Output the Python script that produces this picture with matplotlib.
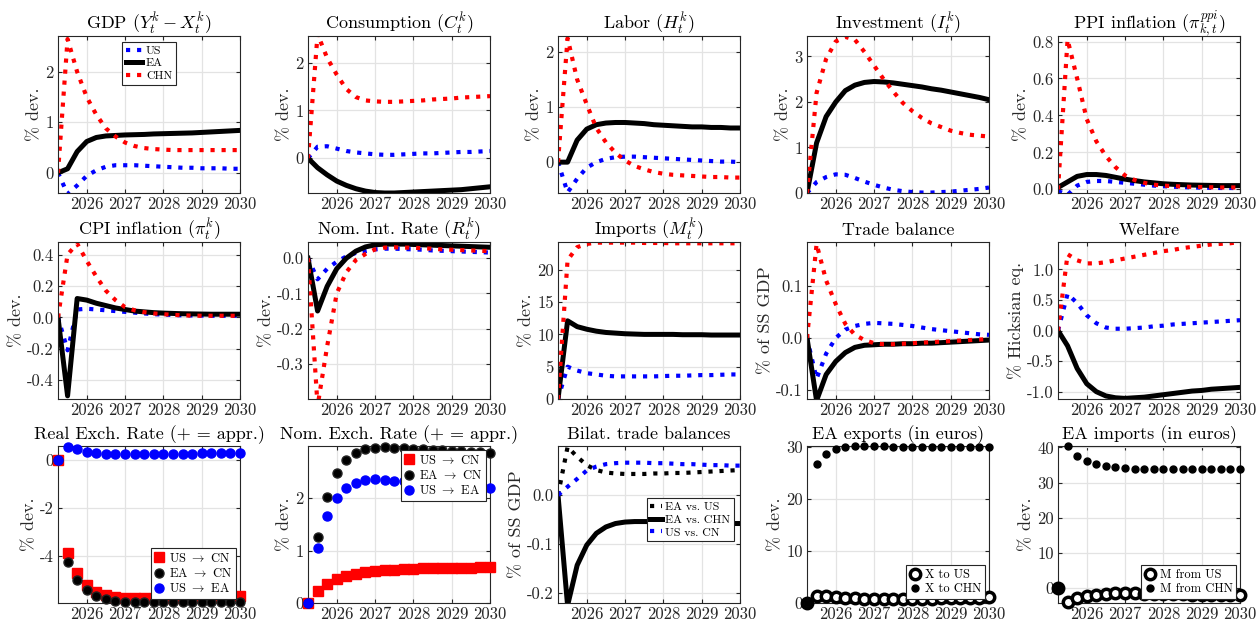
import matplotlib
matplotlib.use("Agg")
import matplotlib.pyplot as plt

plt.rcParams["font.family"] = "serif"
plt.rcParams["font.serif"] = ["cmr10"]
plt.rcParams["mathtext.fontset"] = "cm"
plt.rcParams["axes.unicode_minus"] = False
plt.rcParams["axes.formatter.use_mathtext"] = False

# quarterly periods
t = [2025.25, 2025.5, 2025.75, 2026.0, 2026.25, 2026.5, 2026.75, 2027.0, 2027.25, 2027.5,
     2027.75, 2028.0, 2028.25, 2028.5, 2028.75, 2029.0, 2029.25, 2029.5, 2029.75, 2030.0]

gdp_us = [0, -0.42, -0.25, -0.06, 0.05, 0.12, 0.15, 0.15, 0.15, 0.14, 0.13, 0.12, 0.11, 0.1, 0.1, 0.09, 0.09, 0.09, 0.08, 0.08]
gdp_ea = [0, 0.08, 0.42, 0.62, 0.7, 0.73, 0.74, 0.75, 0.755, 0.76, 0.77, 0.775, 0.78, 0.785, 0.79, 0.8, 0.81, 0.82, 0.83, 0.84]
gdp_chn = [0, 2.65, 2.0, 1.5, 1.15, 0.88, 0.72, 0.6, 0.53, 0.49, 0.47, 0.46, 0.45, 0.45, 0.45, 0.45, 0.45, 0.45, 0.45, 0.45]

cons_us = [0, 0.24, 0.25, 0.2, 0.15, 0.12, 0.1, 0.08, 0.07, 0.07, 0.08, 0.09, 0.1, 0.1, 0.11, 0.12, 0.13, 0.13, 0.14, 0.15]
cons_ea = [0, -0.2, -0.35, -0.48, -0.57, -0.64, -0.69, -0.72, -0.73, -0.73, -0.72, -0.71, -0.7, -0.69, -0.68, -0.67, -0.66, -0.64, -0.62, -0.6]
cons_chn = [0, 2.6, 2.1, 1.75, 1.45, 1.28, 1.21, 1.19, 1.18, 1.18, 1.19, 1.2, 1.21, 1.23, 1.24, 1.25, 1.27, 1.28, 1.29, 1.3]

lab_us = [0, -0.55, -0.3, -0.1, 0.0, 0.06, 0.09, 0.1, 0.1, 0.09, 0.08, 0.07, 0.06, 0.05, 0.04, 0.03, 0.02, 0.01, 0.01, 0.0]
lab_ea = [0, 0.0, 0.4, 0.6, 0.68, 0.71, 0.72, 0.72, 0.71, 0.7, 0.68, 0.67, 0.66, 0.65, 0.64, 0.64, 0.63, 0.63, 0.62, 0.62]
lab_chn = [0, 2.25, 1.5, 1.05, 0.62, 0.36, 0.17, 0.03, -0.07, -0.13, -0.18, -0.21, -0.23, -0.24, -0.25, -0.26, -0.27, -0.27, -0.28, -0.28]

inv_us = [0, 0.24, 0.35, 0.41, 0.4, 0.33, 0.25, 0.18, 0.12, 0.07, 0.04, 0.02, 0.01, 0.01, 0.02, 0.03, 0.05, 0.07, 0.09, 0.12]
inv_ea = [0, 1.1, 1.68, 2.0, 2.25, 2.37, 2.43, 2.45, 2.44, 2.42, 2.39, 2.36, 2.33, 2.29, 2.26, 2.22, 2.18, 2.14, 2.1, 2.05]
inv_chn = [0, 2.2, 2.95, 3.33, 3.43, 3.37, 3.1, 2.8, 2.5, 2.23, 1.98, 1.8, 1.65, 1.53, 1.45, 1.37, 1.32, 1.28, 1.26, 1.24]

ppi_us = [-0.01, -0.03, 0.02, 0.04, 0.045, 0.045, 0.04, 0.035, 0.03, 0.025, 0.02, 0.017, 0.014, 0.012, 0.01, 0.009, 0.008, 0.007, 0.007, 0.006]
ppi_ea = [0.01, 0.04, 0.07, 0.08, 0.08, 0.075, 0.065, 0.055, 0.047, 0.04, 0.035, 0.03, 0.027, 0.025, 0.023, 0.022, 0.021, 0.02, 0.02, 0.02]
ppi_chn = [0, 0.81, 0.6, 0.38, 0.26, 0.18, 0.12, 0.075, 0.05, 0.035, 0.025, 0.02, 0.017, 0.015, 0.013, 0.012, 0.011, 0.01, 0.01, 0.01]

cpi_us = [0, -0.21, 0.05, 0.055, 0.05, 0.045, 0.04, 0.035, 0.03, 0.025, 0.02, 0.018, 0.015, 0.013, 0.012, 0.011, 0.01, 0.01, 0.01, 0.01]
cpi_ea = [0, -0.5, 0.12, 0.11, 0.09, 0.075, 0.06, 0.05, 0.04, 0.035, 0.03, 0.027, 0.025, 0.023, 0.022, 0.021, 0.02, 0.02, 0.02, 0.02]
cpi_chn = [0, 0.4, 0.47, 0.36, 0.26, 0.17, 0.11, 0.065, 0.045, 0.033, 0.025, 0.02, 0.016, 0.013, 0.011, 0.01, 0.01, 0.01, 0.01, 0.01]

rate_us = [0, -0.06, -0.03, -0.01, 0.005, 0.015, 0.02, 0.025, 0.027, 0.027, 0.026, 0.025, 0.024, 0.022, 0.021, 0.02, 0.019, 0.018, 0.017, 0.016]
rate_ea = [0, -0.15, -0.08, -0.03, 0.0, 0.02, 0.032, 0.038, 0.04, 0.04, 0.04, 0.039, 0.038, 0.037, 0.036, 0.035, 0.034, 0.033, 0.032, 0.031]
rate_chn = [0, -0.42, -0.25, -0.1, -0.04, -0.005, 0.012, 0.025, 0.03, 0.031, 0.03, 0.03, 0.028, 0.027, 0.025, 0.024, 0.023, 0.022, 0.021, 0.02]

imp_us = [0, 5.0, 4.4, 4.0, 3.8, 3.6, 3.5, 3.5, 3.5, 3.5, 3.5, 3.55, 3.6, 3.6, 3.65, 3.7, 3.7, 3.75, 3.8, 3.8]
imp_ea = [0, 12.1, 11.2, 10.8, 10.5, 10.3, 10.2, 10.1, 10.05, 10.0, 10.0, 10.0, 10.0, 9.95, 9.95, 9.95, 9.9, 9.9, 9.9, 9.9]
imp_chn = [0, 21.5, 23.5, 24.0, 24.2, 24.2, 24.2, 24.2, 24.2, 24.15, 24.15, 24.15, 24.1, 24.1, 24.1, 24.1, 24.1, 24.1, 24.1, 24.1]

tb_us = [0, -0.078, -0.03, 0.0, 0.016, 0.023, 0.027, 0.029, 0.028, 0.027, 0.025, 0.023, 0.02, 0.017, 0.015, 0.013, 0.011, 0.009, 0.007, 0.006]
tb_ea = [0, -0.12, -0.07, -0.045, -0.028, -0.018, -0.014, -0.013, -0.012, -0.012, -0.011, -0.011, -0.01, -0.01, -0.009, -0.008, -0.007, -0.006, -0.005, -0.004]
tb_chn = [0, 0.18, 0.11, 0.065, 0.027, 0.006, -0.004, -0.01, -0.012, -0.012, -0.011, -0.01, -0.009, -0.008, -0.007, -0.006, -0.005, -0.004, -0.003, -0.002]

wel_us = [0, 0.6, 0.45, 0.25, 0.12, 0.05, 0.03, 0.03, 0.04, 0.05, 0.07, 0.08, 0.1, 0.11, 0.12, 0.13, 0.14, 0.15, 0.16, 0.17]
wel_ea = [0, -0.25, -0.62, -0.87, -1.0, -1.07, -1.1, -1.11, -1.1, -1.09, -1.07, -1.05, -1.03, -1.01, -0.99, -0.98, -0.96, -0.95, -0.94, -0.93]
wel_chn = [0, 1.25, 1.15, 1.1, 1.1, 1.12, 1.15, 1.18, 1.21, 1.24, 1.27, 1.3, 1.32, 1.35, 1.37, 1.39, 1.41, 1.42, 1.43, 1.45]

rer_us_cn = [0, -3.87, -4.73, -5.22, -5.5, -5.65, -5.72, -5.76, -5.78, -5.78, -5.77, -5.76, -5.75, -5.74, -5.73, -5.72, -5.71, -5.7, -5.69, -5.68]
rer_ea_cn = [0, -4.27, -5.0, -5.42, -5.68, -5.82, -5.88, -5.92, -5.93, -5.93, -5.93, -5.93, -5.93, -5.93, -5.93, -5.93, -5.93, -5.93, -5.93, -5.93]
rer_us_ea = [0, 0.55, 0.45, 0.36, 0.3, 0.27, 0.25, 0.24, 0.24, 0.24, 0.25, 0.25, 0.26, 0.26, 0.27, 0.28, 0.28, 0.29, 0.3, 0.3]

ner_us_cn = [0, 0.22, 0.36, 0.46, 0.52, 0.56, 0.59, 0.61, 0.63, 0.64, 0.65, 0.65, 0.66, 0.66, 0.67, 0.67, 0.67, 0.67, 0.68, 0.68]
ner_ea_cn = [0, 1.27, 2.03, 2.48, 2.73, 2.87, 2.94, 2.97, 2.98, 2.97, 2.96, 2.95, 2.94, 2.93, 2.92, 2.91, 2.9, 2.89, 2.88, 2.87]
ner_us_ea = [0, 1.05, 1.66, 2.0, 2.2, 2.3, 2.35, 2.36, 2.35, 2.34, 2.33, 2.31, 2.3, 2.28, 2.27, 2.25, 2.24, 2.23, 2.22, 2.2]

bil_ea_us = [0, 0.098, 0.078, 0.061, 0.051, 0.046, 0.044, 0.043, 0.043, 0.043, 0.044, 0.044, 0.045, 0.045, 0.046, 0.047, 0.048, 0.049, 0.05, 0.051]
bil_ea_chn = [0, -0.225, -0.143, -0.102, -0.078, -0.065, -0.058, -0.055, -0.054, -0.054, -0.054, -0.054, -0.055, -0.055, -0.056, -0.056, -0.057, -0.057, -0.058, -0.058]
bil_us_cn = [0, 0.017, 0.033, 0.05, 0.058, 0.063, 0.065, 0.066, 0.066, 0.066, 0.065, 0.065, 0.064, 0.063, 0.063, 0.062, 0.061, 0.061, 0.06, 0.06]

exp_us = [0, 1.4, 1.25, 1.1, 1.0, 0.9, 0.85, 0.8, 0.75, 0.75, 0.75, 0.78, 0.8, 0.85, 0.88, 0.9, 0.95, 1.0, 1.05, 1.1]
exp_chn = [0, 26.6, 28.5, 29.5, 29.9, 30.05, 30.1, 30.1, 30.05, 30.0, 30.0, 30.0, 30.0, 29.95, 29.95, 29.95, 29.95, 29.95, 29.95, 29.95]

impe_us = [0, -4.0, -2.8, -2.1, -1.8, -1.6, -1.5, -1.5, -1.5, -1.55, -1.6, -1.65, -1.7, -1.75, -1.8, -1.8, -1.85, -1.9, -1.9, -1.9]
impe_chn = [0, 40.3, 37.7, 36.0, 35.2, 34.6, 34.3, 34.1, 34.0, 33.95, 33.9, 33.9, 33.9, 33.9, 33.9, 33.9, 33.9, 33.9, 33.9, 33.9]

W, H = 1257, 625
fig = plt.figure(figsize=(W / 100, H / 100), dpi=100)

col_x = [58, 308, 558, 807, 1058]
row_y = [36, 242, 446]
aw, ah = 182, 157

DARK = "#262626"


def make_ax(r, c):
    x0, y0 = col_x[c], row_y[r]
    ax = fig.add_axes([x0 / W, 1 - (y0 + ah) / H, aw / W, ah / H])
    ax.set_xlim(2025.25, 2030)
    ax.set_xticks([2026, 2027, 2028, 2029, 2030])
    ax.grid(True, color="#e3e3e3", lw=0.9)
    ax.set_axisbelow(True)
    ax.tick_params(direction="in", length=3, top=True, right=True, labelsize=12,
                   colors=DARK, pad=3)
    for s in ax.spines.values():
        s.set_color(DARK)
        s.set_linewidth(0.8)
    return ax


def three_lines(ax, us, ea, chn):
    ax.plot(t, us, color="blue", ls=":", lw=3, label="US")
    ax.plot(t, ea, color="black", ls="-", lw=3.6, label="EA")
    ax.plot(t, chn, color="red", ls=":", lw=3, label="CHN")


def style_legend(leg):
    leg.get_frame().set_edgecolor(DARK)
    leg.get_frame().set_linewidth(0.8)
    leg.set_zorder(10)


def finish(ax, title, ylabel, ylim, yticks):
    ax.set_title(title, fontsize=13, color="black", pad=5)
    ax.set_ylabel(ylabel, fontsize=13, color=DARK, labelpad=2)
    ax.set_ylim(*ylim)
    ax.set_yticks(yticks)


def dots(ax, y, **kw):
    ax.plot(t, y, ls="none", clip_on=False, zorder=3, **kw)


# row 1
ax = make_ax(0, 0)
three_lines(ax, gdp_us, gdp_ea, gdp_chn)
finish(ax, r"GDP ($Y^k_t-X^k_t$)", r"% dev.", (-0.4, 2.71), [0, 1, 2])
leg = ax.legend(loc="upper center", fontsize=8.5, fancybox=False, framealpha=1,
                handlelength=1.4, borderpad=0.3, labelspacing=0.2, handletextpad=0.3)
style_legend(leg)

ax = make_ax(0, 1)
three_lines(ax, cons_us, cons_ea, cons_chn)
finish(ax, r"Consumption ($C^k_t$)", r"% dev.", (-0.73, 2.56), [0, 1, 2])

ax = make_ax(0, 2)
three_lines(ax, lab_us, lab_ea, lab_chn)
finish(ax, r"Labor ($H^k_t$)", r"% dev.", (-0.56, 2.29), [0, 1, 2])

ax = make_ax(0, 3)
three_lines(ax, inv_us, inv_ea, inv_chn)
finish(ax, r"Investment ($I^k_t$)", r"% dev.", (0, 3.45), [0, 1, 2, 3])

ax = make_ax(0, 4)
three_lines(ax, ppi_us, ppi_ea, ppi_chn)
finish(ax, r"PPI inflation ($\pi^{ppi}_{k,t}$)", r"% dev.", (-0.02, 0.83), [0, 0.2, 0.4, 0.6, 0.8])

# row 2
ax = make_ax(1, 0)
three_lines(ax, cpi_us, cpi_ea, cpi_chn)
finish(ax, r"CPI inflation ($\pi^k_t$)", r"% dev.", (-0.52, 0.48), [-0.4, -0.2, 0, 0.2, 0.4])

ax = make_ax(1, 1)
three_lines(ax, rate_us, rate_ea, rate_chn)
finish(ax, r"Nom. Int. Rate ($R^k_t$)", r"% dev.", (-0.4, 0.046), [-0.3, -0.2, -0.1, 0])

ax = make_ax(1, 2)
three_lines(ax, imp_us, imp_ea, imp_chn)
finish(ax, r"Imports ($M^k_t$)", r"% dev.", (0, 24.3), [0, 5, 10, 15, 20])

ax = make_ax(1, 3)
three_lines(ax, tb_us, tb_ea, tb_chn)
finish(ax, "Trade balance", r"% of SS GDP", (-0.117, 0.184), [-0.1, 0, 0.1])

ax = make_ax(1, 4)
three_lines(ax, wel_us, wel_ea, wel_chn)
finish(ax, "Welfare", r"% Hicksian eq.", (-1.12, 1.45), [-1, -0.5, 0, 0.5, 1])

# row 3
leg_kw = dict(fontsize=9, fancybox=False, framealpha=1, handlelength=0.8,
              borderpad=0.3, labelspacing=0.2, handletextpad=0.4, borderaxespad=0.3)

ax = make_ax(2, 0)
dots(ax, rer_us_cn, marker="s", ms=6.5, color="red", label=r"US $\rightarrow$ CN")
dots(ax, rer_ea_cn, marker="o", ms=6.5, mfc="black", mec="#222222", color="black",
     label=r"EA $\rightarrow$ CN")
dots(ax, rer_us_ea, marker="o", ms=6.5, color="blue", label=r"US $\rightarrow$ EA")
finish(ax, "Real Exch. Rate (+ = appr.)", r"% dev.", (-5.97, 0.59), [-4, -2, 0])
style_legend(ax.legend(loc="lower right", **leg_kw))

ax = make_ax(2, 1)
dots(ax, ner_us_cn, marker="s", ms=6.5, color="red", label=r"US $\rightarrow$ CN")
dots(ax, ner_ea_cn, marker="o", ms=6.5, mfc="black", mec="#222222", color="black",
     label=r"EA $\rightarrow$ CN")
dots(ax, ner_us_ea, marker="o", ms=6.5, color="blue", label=r"US $\rightarrow$ EA")
finish(ax, "Nom. Exch. Rate (+ = appr.)", r"% dev.", (0, 3.0), [0, 1, 2])
style_legend(ax.legend(loc="upper right", **leg_kw))

ax = make_ax(2, 2)
ax.plot(t, bil_ea_us, color="black", ls=":", lw=3, label="EA vs. US")
ax.plot(t, bil_ea_chn, color="black", ls="-", lw=3.6, label="EA vs. CHN")
ax.plot(t, bil_us_cn, color="blue", ls=":", lw=3, label="US vs. CN")
finish(ax, "Bilat. trade balances", r"% of SS GDP", (-0.22, 0.1), [-0.2, -0.1, 0])
style_legend(ax.legend(loc="center right", fontsize=8.5, fancybox=False, framealpha=1,
                       handlelength=1.0, borderpad=0.3, labelspacing=0.2, handletextpad=0.3,
                       bbox_to_anchor=(1.0, 0.53)))

ax = make_ax(2, 3)
dots(ax, exp_us, marker="o", ms=7.5, mfc="white", mec="black", mew=2.5, label="X to US")
dots(ax, exp_chn, marker="o", ms=5, color="black", label="X to CHN")
finish(ax, "EA exports (in euros)", r"% dev.", (0, 30.1), [0, 10, 20, 30])
style_legend(ax.legend(loc="lower right", **leg_kw))

ax = make_ax(2, 4)
dots(ax, impe_us, marker="o", ms=7.5, mfc="white", mec="black", mew=2.5, label="M from US")
dots(ax, impe_chn, marker="o", ms=5, color="black", label="M from CHN")
finish(ax, "EA imports (in euros)", r"% dev.", (-4.2, 40.4), [0, 10, 20, 30, 40])
style_legend(ax.legend(loc="lower right", **leg_kw))

fig.savefig("out.png", dpi=100)
